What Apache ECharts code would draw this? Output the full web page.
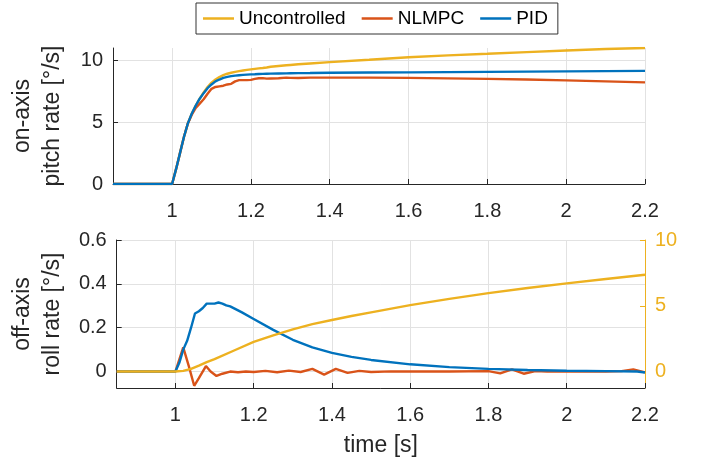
<!DOCTYPE html>
<html>
<head>
<meta charset="utf-8">
<script src="https://cdn.jsdelivr.net/npm/echarts@6/dist/echarts.min.js"></script>
<style>html,body{margin:0;padding:0;background:#fff}#c{width:706px;height:459px}</style>
</head>
<body>
<div id="c"></div>
<script>
// ---- data ----
const seriesNames = ['Uncontrolled', 'NLMPC', 'PID'];
const xTickLabels = ['1', '1.2', '1.4', '1.6', '1.8', '2', '2.2'];

// top panel: on-axis pitch rate [deg/s]
const tTop = [0.85, 1.0, 1.01, 1.02, 1.03, 1.04, 1.05, 1.06, 1.07, 1.08, 1.09, 1.1, 1.11, 1.12, 1.13, 1.14, 1.15, 1.16, 1.17, 1.18, 1.19, 1.2, 1.21, 1.22, 1.23, 1.24, 1.25, 1.27, 1.29, 1.3, 1.32, 1.35, 1.4, 1.5, 1.6, 1.7, 1.8, 1.9, 2.0, 2.1, 2.2];
const uncPitch = [0, 0, 1.2, 2.5, 3.8, 4.9, 5.7, 6.35, 6.9, 7.4, 7.85, 8.2, 8.45, 8.65, 8.8, 8.92, 9.0, 9.07, 9.13, 9.18, 9.23, 9.27, 9.31, 9.35, 9.38, 9.42, 9.48, 9.54, 9.6, 9.63, 9.68, 9.75, 9.86, 10.05, 10.25, 10.4, 10.53, 10.67, 10.8, 10.92, 11.0];
const nlmpcPitch = [0, 0, 1.2, 2.5, 3.8, 4.9, 5.6, 6.15, 6.5, 6.85, 7.3, 7.7, 7.85, 7.9, 7.95, 8.05, 8.1, 8.3, 8.4, 8.4, 8.4, 8.42, 8.5, 8.55, 8.56, 8.52, 8.53, 8.55, 8.6, 8.58, 8.57, 8.6, 8.6, 8.6, 8.58, 8.54, 8.5, 8.45, 8.38, 8.3, 8.22];
const pidPitch = [0, 0, 1.2, 2.5, 3.8, 4.9, 5.7, 6.35, 6.9, 7.35, 7.75, 8.05, 8.3, 8.45, 8.58, 8.66, 8.72, 8.77, 8.8, 8.83, 8.85, 8.87, 8.88, 8.9, 8.91, 8.92, 8.93, 8.94, 8.95, 8.96, 8.97, 8.98, 9.0, 9.02, 9.03, 9.05, 9.07, 9.09, 9.11, 9.13, 9.15];

// bottom panel: off-axis roll rate [deg/s] (left axis), uncontrolled on right axis
const tRollPID = [0.85, 1.0, 1.01, 1.02, 1.03, 1.04, 1.05, 1.06, 1.07, 1.08, 1.09, 1.1, 1.11, 1.12, 1.13, 1.14, 1.15, 1.17, 1.2, 1.25, 1.3, 1.35, 1.4, 1.45, 1.5, 1.6, 1.7, 1.8, 1.9, 2.0, 2.1, 2.18, 2.2];
const pidRoll = [0, 0, 0.04, 0.1, 0.14, 0.2, 0.265, 0.275, 0.29, 0.31, 0.31, 0.31, 0.315, 0.31, 0.302, 0.297, 0.288, 0.27, 0.24, 0.19, 0.145, 0.11, 0.085, 0.067, 0.053, 0.033, 0.02, 0.012, 0.007, 0.004, 0.002, 0.0, -0.004];
const tRollNL = [0.85, 1.0, 1.02, 1.035, 1.048, 1.06, 1.078, 1.09, 1.105, 1.12, 1.14, 1.16, 1.18, 1.2, 1.23, 1.26, 1.29, 1.32, 1.35, 1.38, 1.41, 1.44, 1.47, 1.5, 1.55, 1.6, 1.7, 1.8, 1.83, 1.86, 1.89, 1.92, 1.95, 2.0, 2.1, 2.14, 2.17, 2.2];
const nlmpcRoll = [0, 0, 0.11, 0.02, -0.065, -0.03, 0.025, 0.0, -0.02, -0.01, 0.0, -0.003, 0.0, -0.002, 0.003, -0.003, 0.004, -0.002, 0.012, -0.014, 0.012, -0.006, 0.003, -0.002, 0.001, 0, 0, 0.002, -0.008, 0.01, -0.01, 0.002, 0, 0, 0, 0.002, 0.01, -0.004];
const tRollUnc = [0.85, 1.0, 1.02, 1.04, 1.06, 1.08, 1.1, 1.15, 1.2, 1.25, 1.3, 1.35, 1.4, 1.45, 1.5, 1.6, 1.7, 1.8, 1.9, 2.0, 2.1, 2.2];
const uncRoll = [0, 0, 0.05, 0.2, 0.45, 0.72, 0.95, 1.6, 2.25, 2.75, 3.2, 3.6, 3.92, 4.22, 4.5, 5.05, 5.52, 5.96, 6.35, 6.7, 7.04, 7.36];

// ---- styling ----
const FONT = "'Liberation Sans', Arial, Helvetica, sans-serif";
const C_UNC = '#EDB120', C_NL = '#D95319', C_PID = '#0072BD';
const AX = '#262626', GRIDC = '#e2e2e2';
const TICK_FS = 20, NAME_FS = 23;

const zip = (t, v) => t.map((x, i) => [x, v[i]]);

function xAxisCfg(gridIndex, withName) {
  return {
    type: 'value', gridIndex, min: 0.85, max: 2.2, splitNumber: 7,
    axisLine: { show: true, onZero: false, lineStyle: { color: AX, width: 1 } },
    axisTick: { show: true, inside: true, length: 5, lineStyle: { color: AX } },
    axisLabel: {
      show: true, showMinLabel: false, showMaxLabel: true, margin: 17,
      color: AX, fontSize: TICK_FS, fontFamily: FONT,
      formatter: v => { const s = xTickLabels.find(l => Math.abs(parseFloat(l) - v) < 1e-6); return s || ''; }
    },
    splitLine: { show: true, showMinLine: false, lineStyle: { color: GRIDC, width: 1 } },
    name: withName ? 'time [s]' : '', nameLocation: 'middle', nameGap: 46,
    nameTextStyle: { color: AX, fontSize: NAME_FS, fontFamily: FONT }
  };
}

const lineSeries = (name, data, color, xi, yi, z) => ({
  name, type: 'line', data, xAxisIndex: xi, yAxisIndex: yi,
  showSymbol: false, symbol: 'none', smooth: false, z,
  lineStyle: { color, width: 2.4 }, itemStyle: { color }, emphasis: { disabled: true }
});

const option = {
  animation: false,
  backgroundColor: '#fff',
  textStyle: { fontFamily: FONT },
  legend: {
    data: seriesNames, left: 196, top: 3, orient: 'horizontal',
    icon: 'rect', itemWidth: 31, itemHeight: 2.5, itemGap: 16,
    padding: [6, 10, 6, 7], borderColor: '#333', borderWidth: 1, backgroundColor: '#fff',
    textStyle: { fontSize: 19, color: '#000', fontFamily: FONT },
    selectedMode: false
  },
  grid: [
    { left: 112, right: 61, top: 48, height: 136, containLabel: false },
    { left: 112, right: 61, top: 240, height: 148, containLabel: false }
  ],
  xAxis: [xAxisCfg(0, false), xAxisCfg(1, true)],
  yAxis: [
    {
      type: 'value', gridIndex: 0, min: 0, max: 11, splitNumber: 2,
      axisLine: { show: true, lineStyle: { color: AX, width: 1 } },
      axisTick: { show: true, inside: true, length: 5, lineStyle: { color: AX } },
      axisLabel: { showMaxLabel: false, margin: 10, color: AX, fontSize: TICK_FS, fontFamily: FONT },
      splitLine: { show: true, showMaxLine: false, showMinLine: false, lineStyle: { color: GRIDC } },
      name: 'on-axis\npitch rate [°/s]', nameLocation: 'middle', nameRotate: 90, nameGap: 45,
      nameTextStyle: { color: AX, fontSize: NAME_FS, fontFamily: FONT, lineHeight: 30, align: 'center' }
    },
    {
      type: 'value', gridIndex: 1, min: -0.075, max: 0.6, splitNumber: 4,
      axisLine: { show: true, onZero: false, lineStyle: { color: AX, width: 1 } },
      axisTick: { show: true, inside: true, length: 5, lineStyle: { color: AX } },
      axisLabel: { showMinLabel: false, margin: 10, color: AX, fontSize: TICK_FS, fontFamily: FONT },
      splitLine: { show: true, showMinLine: false, lineStyle: { color: GRIDC } },
      name: 'off-axis\nroll rate [°/s]', nameLocation: 'middle', nameRotate: 90, nameGap: 45,
      nameTextStyle: { color: AX, fontSize: NAME_FS, fontFamily: FONT, lineHeight: 30, align: 'center' }
    },
    {
      type: 'value', gridIndex: 1, position: 'right', min: -1.25, max: 10, splitNumber: 2,
      axisLine: { show: true, onZero: false, lineStyle: { color: C_UNC, width: 1 } },
      axisTick: { show: true, inside: true, length: 5, lineStyle: { color: C_UNC } },
      axisLabel: { showMinLabel: false, margin: 10, color: C_UNC, fontSize: TICK_FS, fontFamily: FONT },
      splitLine: { show: false }
    }
  ],
  series: [
    lineSeries('Uncontrolled', zip(tTop, uncPitch), C_UNC, 0, 0, 2),
    lineSeries('NLMPC', zip(tTop, nlmpcPitch), C_NL, 0, 0, 3),
    lineSeries('PID', zip(tTop, pidPitch), C_PID, 0, 0, 4),
    lineSeries('NLMPC', zip(tRollNL, nlmpcRoll), C_NL, 1, 1, 2),
    lineSeries('PID', zip(tRollPID, pidRoll), C_PID, 1, 1, 3),
    lineSeries('Uncontrolled', zip(tRollUnc, uncRoll), C_UNC, 1, 2, 4)
  ]
};

const chart = echarts.init(document.getElementById('c'), null, { renderer: 'canvas' });
chart.setOption(option);
</script>
</body>
</html>
